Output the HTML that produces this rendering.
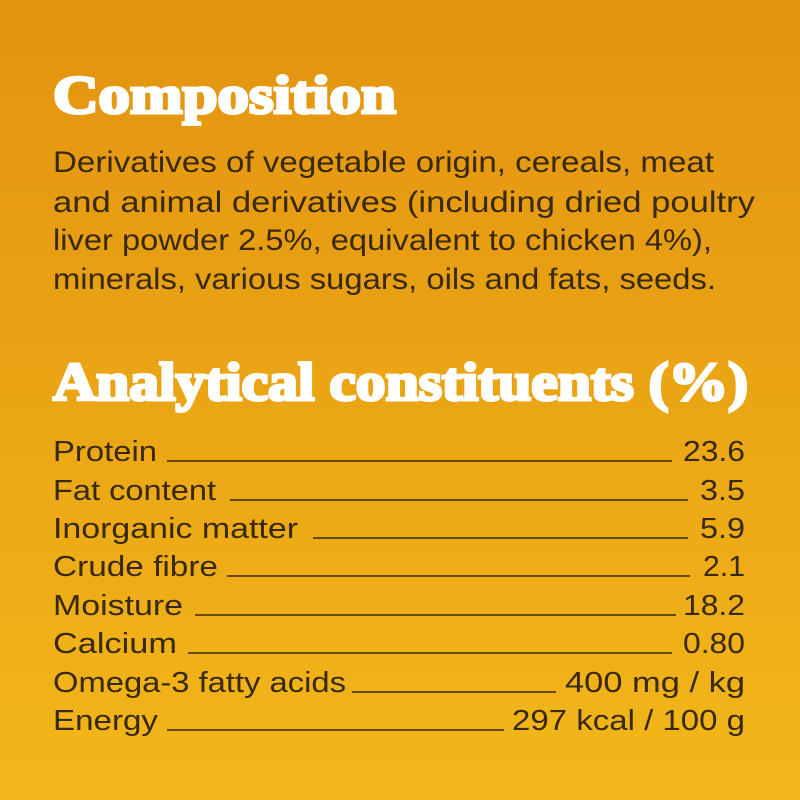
<!DOCTYPE html>
<html>
<head>
<meta charset="utf-8">
<style>
  html,body{margin:0;padding:0;width:800px;height:800px;overflow:hidden;}
  svg{display:block;}
  .h{font-family:"Liberation Serif",serif;font-weight:bold;fill:#fff;stroke:#fff;stroke-width:3;}
  .b{font-family:"Liberation Sans",sans-serif;fill:#38290f;font-size:30px;}
  .t{font-family:"Liberation Sans",sans-serif;fill:#38290f;font-size:29px;}
  .l{stroke:#38290f;stroke-width:1.6;}
</style>
</head>
<body>
<svg width="800" height="800" viewBox="0 0 800 800">
  <defs>
    <linearGradient id="bg" x1="0" y1="0" x2="0" y2="1">
      <stop offset="0" stop-color="#e3930f"/>
      <stop offset="1" stop-color="#f2b71a"/>
    </linearGradient>
  </defs>
  <rect width="800" height="800" fill="url(#bg)"/>

  <text class="h" x="53" y="113" font-size="54" textLength="343" lengthAdjust="spacingAndGlyphs">Composition</text>

  <g>
    <text class="b" x="53" y="172" textLength="661" lengthAdjust="spacingAndGlyphs">Derivatives of vegetable origin, cereals, meat</text>
    <text class="b" x="53" y="212" textLength="702" lengthAdjust="spacingAndGlyphs">and animal derivatives (including dried poultry</text>
    <text class="b" x="53" y="250" textLength="659" lengthAdjust="spacingAndGlyphs">liver powder 2.5%, equivalent to chicken 4%),</text>
    <text class="b" x="53" y="289" textLength="663" lengthAdjust="spacingAndGlyphs">minerals, various sugars, oils and fats, seeds.</text>
  </g>

  <text class="h" x="53" y="400" font-size="54" textLength="695" lengthAdjust="spacingAndGlyphs">Analytical constituents (%)</text>

  <g>
    <text class="t" x="53" y="461" textLength="104" lengthAdjust="spacingAndGlyphs">Protein</text>
    <line class="l" x1="167" y1="461" x2="672" y2="461"/>
    <text class="t" x="683" y="461" textLength="62" lengthAdjust="spacingAndGlyphs">23.6</text>
  </g>
  <g>
    <text class="t" x="53" y="500" textLength="163" lengthAdjust="spacingAndGlyphs">Fat content</text>
    <line class="l" x1="230" y1="500" x2="688" y2="500"/>
    <text class="t" x="700" y="500" textLength="45" lengthAdjust="spacingAndGlyphs">3.5</text>
  </g>
  <g>
    <text class="t" x="53" y="538" textLength="245" lengthAdjust="spacingAndGlyphs">Inorganic matter</text>
    <line class="l" x1="313" y1="538" x2="688" y2="538"/>
    <text class="t" x="700" y="538" textLength="45" lengthAdjust="spacingAndGlyphs">5.9</text>
  </g>
  <g>
    <text class="t" x="53" y="576" textLength="165" lengthAdjust="spacingAndGlyphs">Crude fibre</text>
    <line class="l" x1="227" y1="576" x2="690" y2="576"/>
    <text class="t" x="703" y="576" textLength="42" lengthAdjust="spacingAndGlyphs">2.1</text>
  </g>
  <g>
    <text class="t" x="53" y="615" textLength="130" lengthAdjust="spacingAndGlyphs">Moisture</text>
    <line class="l" x1="195" y1="615" x2="676" y2="615"/>
    <text class="t" x="683" y="615" textLength="62" lengthAdjust="spacingAndGlyphs">18.2</text>
  </g>
  <g>
    <text class="t" x="53" y="653" textLength="124" lengthAdjust="spacingAndGlyphs">Calcium</text>
    <line class="l" x1="188" y1="653" x2="672" y2="653"/>
    <text class="t" x="683" y="653" textLength="62" lengthAdjust="spacingAndGlyphs">0.80</text>
  </g>
  <g>
    <text class="t" x="53" y="692" textLength="293" lengthAdjust="spacingAndGlyphs">Omega-3 fatty acids</text>
    <line class="l" x1="352" y1="692" x2="556" y2="692"/>
    <text class="t" x="565" y="692" textLength="180" lengthAdjust="spacingAndGlyphs">400 mg / kg</text>
  </g>
  <g>
    <text class="t" x="53" y="730" textLength="105" lengthAdjust="spacingAndGlyphs">Energy</text>
    <line class="l" x1="167" y1="730" x2="504" y2="730"/>
    <text class="t" x="512" y="730" textLength="233" lengthAdjust="spacingAndGlyphs">297 kcal / 100 g</text>
  </g>
</svg>
</body>
</html>
